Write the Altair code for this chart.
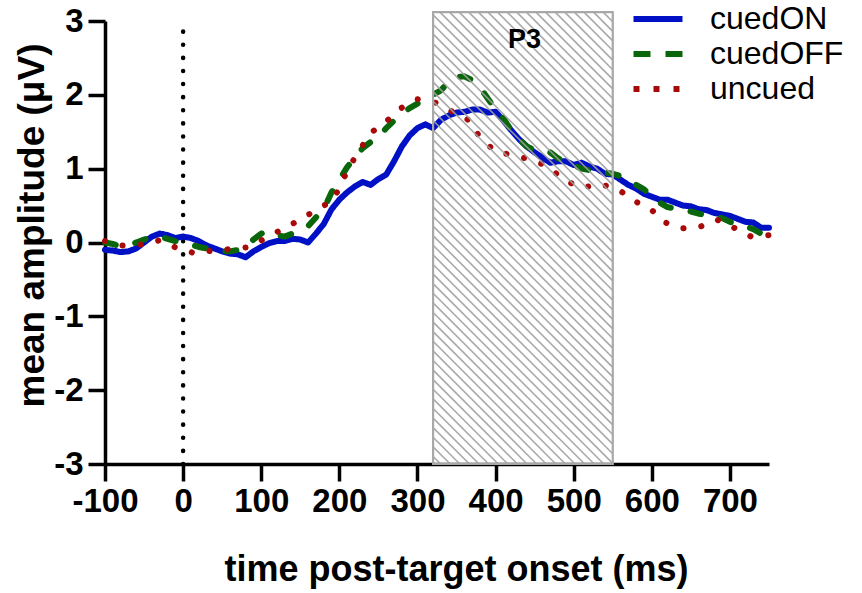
import altair as alt
import pandas as pd

# ---------------- data ----------------
series_names = ["cuedON", "cuedOFF", "uncued"]
series_colors = ["#0010C4", "#0A660A", "#A80A0A"]

t_grid = [-100, -90, -80, -70, -60, -50, -40, -30, -20, -10, 0, 10, 20, 30, 40, 50, 60, 70, 80, 90,
          100, 110, 120, 130, 140, 150, 160, 170, 180, 190, 200, 210, 220, 230, 240, 250, 260, 270, 280, 290,
          300, 310, 320, 330, 340, 350, 360, 370, 380, 390, 400, 410, 420, 430, 440, 450, 460, 470, 480, 490,
          500, 510, 520, 530, 540, 550, 560, 570, 580, 590, 600, 610, 620, 630, 640, 650, 660, 670, 680, 690,
          700, 710, 720, 730, 740, 750]

cued_on = [-0.10, -0.11, -0.13, -0.12, -0.08, 0.00, 0.08, 0.12, 0.10, 0.06, 0.08, 0.06, 0.02, -0.04, -0.08, -0.12, -0.15, -0.16, -0.20, -0.12,
           -0.06, -0.01, 0.02, 0.02, 0.05, 0.04, 0.00, 0.12, 0.25, 0.45, 0.58, 0.68, 0.76, 0.82, 0.78, 0.86, 0.92, 1.10, 1.30, 1.45,
           1.55, 1.60, 1.55, 1.66, 1.72, 1.76, 1.77, 1.80, 1.80, 1.76, 1.77, 1.65, 1.52, 1.40, 1.30, 1.22, 1.15, 1.08, 1.10, 1.10,
           1.05, 1.08, 1.03, 1.00, 0.93, 0.92, 0.85, 0.78, 0.73, 0.66, 0.62, 0.58, 0.58, 0.54, 0.50, 0.49, 0.45, 0.44, 0.40, 0.38,
           0.36, 0.32, 0.28, 0.27, 0.20, 0.20]

cued_off = [0.00, -0.02, -0.05, -0.03, 0.00, 0.04, 0.07, 0.08, 0.05, 0.02, 0.00, -0.03, -0.06, -0.08, -0.10, -0.12, -0.12, -0.10, -0.06, 0.04,
            0.12, 0.15, 0.10, 0.08, 0.12, 0.16, 0.22, 0.34, 0.45, 0.68, 0.85, 1.02, 1.15, 1.28, 1.36, 1.42, 1.55, 1.65, 1.74, 1.82,
            1.88, 1.94, 2.00, 2.06, 2.18, 2.24, 2.25, 2.20, 2.10, 1.95, 1.80, 1.68, 1.52, 1.40, 1.30, 1.25, 1.24, 1.22, 1.14, 1.09,
            1.05, 1.00, 0.98, 0.96, 0.95, 0.93, 0.90, 0.84, 0.78, 0.72, 0.62, 0.54, 0.48, 0.46, 0.44, 0.42, 0.39, 0.37, 0.35, 0.33,
            0.28, 0.25, 0.22, 0.18, 0.12, 0.10]

t_uncued = [-100, -80, -60, -40, -30, -20, -8, 0, 16, 30, 50, 70, 86, 107, 129, 150, 170, 192, 213, 227,
            241, 260, 279, 300, 325, 345, 367, 380, 399, 422, 446, 467, 487, 510, 533, 556, 576, 598, 615, 637,
            661, 683, 705, 727, 750]
uncued = [0.02, -0.04, -0.04, 0.00, 0.03, 0.00, -0.08, -0.10, -0.15, -0.12, -0.10, -0.08, -0.06, 0.07, 0.19, 0.31, 0.44, 0.57, 1.03, 1.27,
          1.49, 1.64, 1.82, 1.94, 1.89, 1.77, 1.65, 1.42, 1.24, 1.18, 1.12, 1.03, 0.85, 0.74, 0.79, 0.73, 0.57, 0.46, 0.28, 0.19,
          0.21, 0.31, 0.20, 0.08, 0.10]

x_ticks = [-100, 0, 100, 200, 300, 400, 500, 600, 700]
y_ticks = [-3, -2, -1, 0, 1, 2, 3]
x_domain = [-100, 750]
y_domain = [-3, 3]

p3_window = [320, 550]
p3_top = 3.12
p3_label = ["P3"]
p3_label_pos = [437, 2.74]
onset_time = [0]

# ---------------- layout ----------------
W, H = 664, 443
FONT = "Liberation Sans"

rows = []
for t, v in zip(t_grid, cued_on):
    rows.append({"t": t, "v": v, "cond": "cuedON"})
for t, v in zip(t_grid, cued_off):
    rows.append({"t": t, "v": v, "cond": "cuedOFF"})
for t, v in zip(t_uncued, uncued):
    rows.append({"t": t, "v": v, "cond": "uncued"})
df = pd.DataFrame(rows)
# one vertex per series: a single-point line draws nothing, it only carries the legend
legend_src = df.groupby("cond", sort=False).head(1).reset_index(drop=True)

# hatch pattern segments for the P3 box (45 degree lines in pixel space)
sx = W / (x_domain[1] - x_domain[0])
sy = H / (y_domain[1] - y_domain[0])
X0 = (p3_window[0] - x_domain[0]) * sx
X1 = (p3_window[1] - x_domain[0]) * sx
Yt = (y_domain[1] - p3_top) * sy
Yb = (y_domain[1] - y_domain[0]) * sy
hatch = []
step = 9.6
c = Yt - X1
while c < Yb - X0:
    xa = max(X0, Yt - c)
    xb = min(X1, Yb - c)
    if xb > xa:
        hatch.append({
            "t1": xa / sx + x_domain[0], "v1": y_domain[1] - (xa + c) / sy,
            "t2": xb / sx + x_domain[0], "v2": y_domain[1] - (xb + c) / sy,
        })
    c += step
hatch_df = pd.DataFrame(hatch)

box_df = pd.DataFrame({"t1": [p3_window[0]], "t2": [p3_window[1]], "v1": [y_domain[0]], "v2": [p3_top]})
text_df = pd.DataFrame({"t": [p3_label_pos[0]], "v": [p3_label_pos[1]], "label": p3_label})
zero_df = pd.DataFrame({"t": onset_time, "v1": [y_domain[0]], "v2": [2.98]})

xscale = alt.Scale(domain=x_domain, nice=False, zero=False)
yscale = alt.Scale(domain=y_domain, nice=False, zero=False)

axis_common = dict(
    domainColor="black", domainWidth=3.5, tickColor="black", tickWidth=3.5, tickSize=17,
    labelFont=FONT, labelFontWeight="bold", labelFontSize=33, labelColor="black",
    titleFont=FONT, titleFontWeight="bold", titleColor="black", grid=False,
    labelExpr="'' + datum.value",
)

x_enc = alt.X("t:Q", scale=xscale, axis=alt.Axis(
    values=x_ticks, title="time post-target onset (ms)", titleX=351, titleY=116,
    titleAlign="center", titleBaseline="alphabetic", titleFontSize=36, labelPadding=4,
    labelFlush=False, **axis_common))
y_enc = alt.Y("v:Q", scale=yscale, axis=alt.Axis(
    values=y_ticks, title="mean amplitude (μV)", titleX=-62, titleY=204,
    titleAlign="center", titleBaseline="alphabetic", titleAngle=270, titleFontSize=37,
    labelPadding=5, **axis_common))

lines = alt.Chart(df).mark_line(strokeCap="round", strokeJoin="round").encode(
    x=x_enc,
    y=y_enc,
    color=alt.Color("cond:N", scale=alt.Scale(domain=series_names, range=series_colors), legend=None),
    strokeDash=alt.StrokeDash("cond:N", scale=alt.Scale(domain=series_names,
                                                         range=[[1, 0], [11, 20], [0.1, 18]]),
                              legend=None),
    strokeWidth=alt.StrokeWidth("cond:N", scale=alt.Scale(domain=series_names, range=[6, 6, 7]),
                                legend=None),
    order=alt.Order("t:Q"),
)

# legend glyph: a horizontal stroke, longer than the (small) symbol size so rows stay compact
leg = dict(title=None, orient="none", legendX=537, legendY=-18, symbolType="M-2.8,0L2.8,0",
           symbolSize=306.25, symbolStrokeWidth=6, labelFontSize=32, labelFont=FONT,
           labelColor="black", labelOffset=36, rowPadding=3)

legend_layer = alt.Chart(legend_src).mark_line(strokeCap="butt").encode(
    x=alt.X("t:Q", scale=xscale),
    y=alt.Y("v:Q", scale=yscale),
    color=alt.Color("cond:N", scale=alt.Scale(domain=series_names, range=series_colors),
                    legend=alt.Legend(**leg)),
    strokeDash=alt.StrokeDash("cond:N", scale=alt.Scale(domain=series_names,
                                                         range=[[1, 0], [17, 15], [6, 14]]),
                              legend=alt.Legend(**leg)),
)

box = alt.Chart(box_df).mark_rect(fill=None, stroke="#A8A8A8", strokeWidth=2.2).encode(
    x=alt.X("t1:Q", scale=xscale), x2="t2:Q",
    y=alt.Y("v1:Q", scale=yscale), y2="v2:Q",
)

hatch_layer = alt.Chart(hatch_df).mark_rule(color="#A0A0A0", strokeWidth=1.6, opacity=0.9).encode(
    x=alt.X("t1:Q", scale=xscale), x2="t2:Q",
    y=alt.Y("v1:Q", scale=yscale), y2="v2:Q",
)

zero_line = alt.Chart(zero_df).mark_rule(color="black", strokeWidth=4.5, strokeDash=[0.1, 13],
                                         strokeCap="round").encode(
    x=alt.X("t:Q", scale=xscale),
    y=alt.Y("v1:Q", scale=yscale), y2="v2:Q",
)

p3_text = alt.Chart(text_df).mark_text(font=FONT, fontSize=27, fontWeight="bold", color="black",
                                        baseline="middle", align="center").encode(
    x=alt.X("t:Q", scale=xscale), y=alt.Y("v:Q", scale=yscale), text="label:N",
)

chart = alt.layer(zero_line, lines, hatch_layer, box, p3_text, legend_layer).resolve_scale(
    color="independent", strokeDash="independent"
).properties(
    width=W, height=H,
    autosize=alt.AutoSizeParams(type="none"),
    padding={"left": 105, "top": 21, "right": 862 - 105 - W, "bottom": 593 - 21 - H},
).configure_view(stroke=None)

chart.save("out.html", embed_options={"renderer": "svg", "actions": False})
